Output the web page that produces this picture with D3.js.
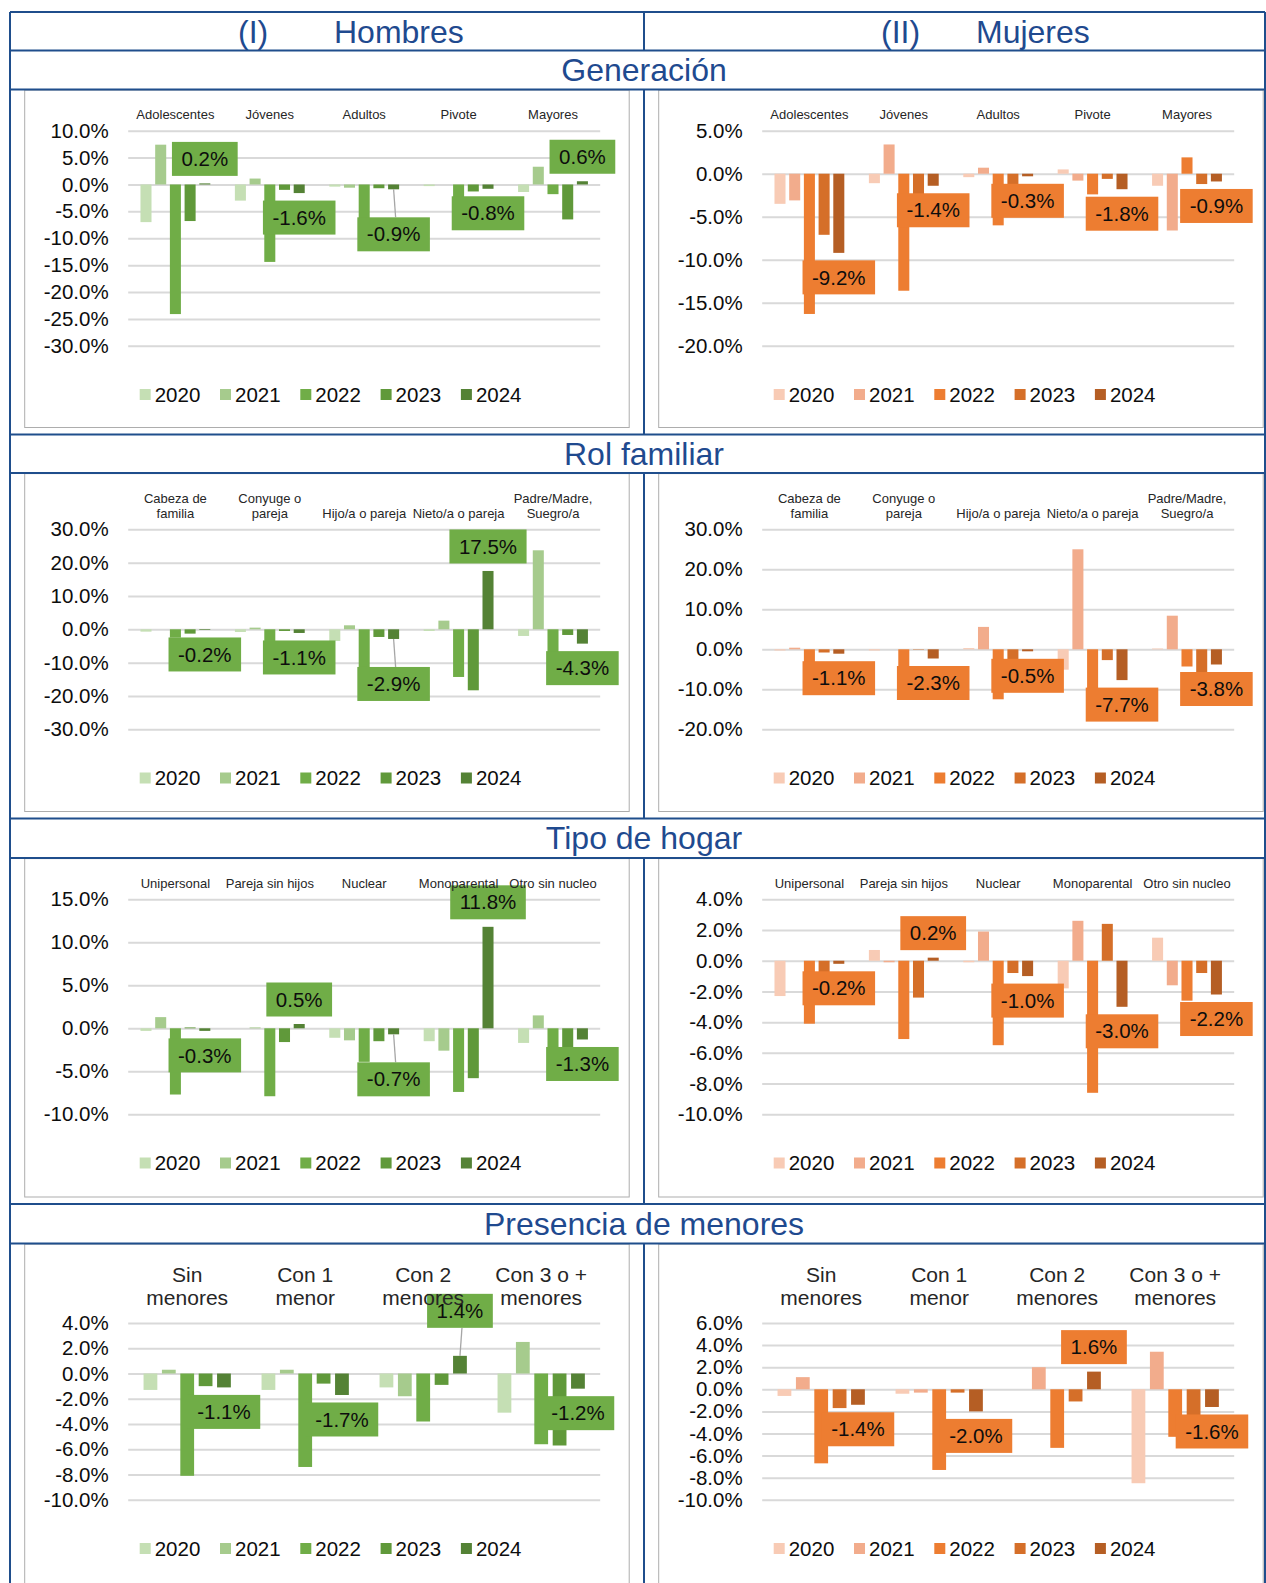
<!DOCTYPE html>
<html>
<head>
<meta charset="utf-8">
<script src="https://cdn.jsdelivr.net/npm/d3@7"></script>
<style>
  html, body { margin: 0; padding: 0; background: #fff; }
  svg { display: block; }
</style>
</head>
<body>
<svg id="chart" width="1266" height="1583"></svg>
<script>
// ---- data: annual change (%) per category, series 2020..2024 ----
const years = ["2020", "2021", "2022", "2023", "2024"];

const generacionCats = ["Adolescentes", "Jóvenes", "Adultos", "Pivote", "Mayores"];
const rolCats = ["Cabeza de\nfamilia", "Conyuge o\npareja", "Hijo/a o pareja", "Nieto/a o pareja", "Padre/Madre,\nSuegro/a"];
const hogarCats = ["Unipersonal", "Pareja sin hijos", "Nuclear", "Monoparental", "Otro sin nucleo"];
const menoresCats = ["Sin\nmenores", "Con 1\nmenor", "Con 2\nmenores", "Con 3 o +\nmenores"];

const generacionHombres = [
  [-7.0, 7.4, -24.1, -6.8, 0.2],
  [-3.0, 1.1, -14.4, -1.0, -1.6],
  [-0.4, -0.6, -6.4, -0.7, -0.9],
  [-0.3, 0.0, -2.5, -1.3, -0.8],
  [-1.4, 3.3, -1.8, -6.5, 0.6]
];
const generacionMujeres = [
  [-3.5, -3.1, -16.3, -7.1, -9.2],
  [-1.1, 3.4, -13.6, -3.0, -1.4],
  [-0.4, 0.7, -6.0, -1.8, -0.3],
  [0.5, -0.8, -2.4, -0.6, -1.8],
  [-1.4, -6.6, 1.9, -1.2, -0.9]
];
const rolHombres = [
  [-0.7, 0.0, -2.5, -1.3, -0.2],
  [-0.8, 0.5, -3.5, -0.5, -1.1],
  [-3.5, 1.2, -13.5, -2.3, -2.9],
  [-0.5, 2.6, -14.3, -18.3, 17.5],
  [-2.0, 23.7, -7.0, -1.7, -4.3]
];
const rolMujeres = [
  [-0.3, 0.4, -3.5, -0.8, -1.1],
  [-0.3, 0.0, -4.5, -0.1, -2.3],
  [0.3, 5.6, -12.5, -2.8, -0.5],
  [-5.1, 25.0, -11.0, -2.7, -7.7],
  [0.2, 8.4, -4.3, -6.0, -3.8]
];
const hogarHombres = [
  [-0.3, 1.3, -7.7, 0.1, -0.3],
  [0.0, 0.1, -7.9, -1.6, 0.5],
  [-1.1, -1.4, -3.9, -1.5, -0.7],
  [-1.5, -2.6, -7.4, -5.8, 11.8],
  [-1.7, 1.5, -6.0, -2.5, -1.3]
];
const hogarMujeres = [
  [-2.3, 0.0, -4.1, -1.0, -0.2],
  [0.7, -0.1, -5.1, -2.4, 0.2],
  [-0.1, 1.9, -5.5, -0.8, -1.0],
  [-1.8, 2.6, -8.6, 2.4, -3.0],
  [1.5, -1.6, -2.6, -0.8, -2.2]
];
const menoresHombres = [
  [-1.3, 0.3, -8.1, -1.0, -1.1],
  [-1.3, 0.3, -7.4, -0.8, -1.7],
  [-1.1, -1.8, -3.8, -0.9, 1.4],
  [-3.1, 2.5, -5.6, -5.7, -1.2]
];
const menoresMujeres = [
  [-0.6, 1.1, -6.7, -1.7, -1.4],
  [-0.4, -0.3, -7.3, -0.3, -2.0],
  [0.0, 2.0, -5.3, -1.1, 1.6],
  [-8.5, 3.4, -4.3, -2.8, -1.6]
];

// y-axis tick values for each panel
const generacionHombresTicks = [10, 5, 0, -5, -10, -15, -20, -25, -30];
const generacionMujeresTicks = [5, 0, -5, -10, -15, -20];
const rolHombresTicks = [30, 20, 10, 0, -10, -20, -30];
const rolMujeresTicks = [30, 20, 10, 0, -10, -20];
const hogarHombresTicks = [15, 10, 5, 0, -5, -10];
const hogarMujeresTicks = [4, 2, 0, -2, -4, -6, -8, -10];
const menoresHombresTicks = [4, 2, 0, -2, -4, -6, -8, -10];
const menoresMujeresTicks = [6, 4, 2, 0, -2, -4, -6, -8, -10];

// ---- styling ----
const FONT = '"Liberation Sans", Arial, Helvetica, sans-serif';
const greens = ["#C5DFB4", "#A6CB8D", "#70AD47", "#60993A", "#548235"];
const oranges = ["#F8CBB5", "#F2AC8C", "#ED7D31", "#D56F29", "#B55E24"];
const titleBlue = "#1F4A8F";
const ruleBlue = "#1F4E8C";

// ---- table layout ----
const T = { left: 10, mid: 644, right: 1265, top: 12, headBottom: 50.5 };
const rows = [
  { title: "Generación", titleTop: 50.5, chartTop: 89.5, chartBottom: 434.5, plotInset: 41.2, catGap: 16, catFont: 13, catLine: 15 },
  { title: "Rol familiar", titleTop: 434.5, chartTop: 473, chartBottom: 818.5, plotInset: 56.3, catGap: 16, catFont: 13, catLine: 15 },
  { title: "Tipo de hogar", titleTop: 818.5, chartTop: 858, chartBottom: 1204, plotInset: 41.3, catGap: 15.5, catFont: 13, catLine: 15 },
  { title: "Presencia de menores", titleTop: 1204, chartTop: 1243.5, chartBottom: 1600, plotInset: 79.5, catGap: 25, catFont: 21, catLine: 23 }
];

const panels = [
  { row: 0, side: 0, cats: generacionCats, values: generacionHombres, ticks: generacionHombresTicks, leader: 2 },
  { row: 0, side: 1, cats: generacionCats, values: generacionMujeres, ticks: generacionMujeresTicks, leader: -1 },
  { row: 1, side: 0, cats: rolCats, values: rolHombres, ticks: rolHombresTicks, leader: 2 },
  { row: 1, side: 1, cats: rolCats, values: rolMujeres, ticks: rolMujeresTicks, leader: -1 },
  { row: 2, side: 0, cats: hogarCats, values: hogarHombres, ticks: hogarHombresTicks, leader: 2 },
  { row: 2, side: 1, cats: hogarCats, values: hogarMujeres, ticks: hogarMujeresTicks, leader: -1 },
  { row: 3, side: 0, cats: menoresCats, values: menoresHombres, ticks: menoresHombresTicks, leader: 2 },
  { row: 3, side: 1, cats: menoresCats, values: menoresMujeres, ticks: menoresMujeresTicks, leader: -1 }
];

const svg = d3.select("#chart").attr("font-family", FONT);
const pct = d => d.toFixed(1) + "%";

// ---- header texts ----
const head = svg.append("g").attr("fill", titleBlue).attr("font-size", 32);
head.append("text").attr("x", 238).attr("y", 31.5).attr("dy", "0.35em").text("(I)");
head.append("text").attr("x", 334).attr("y", 31.5).attr("dy", "0.35em").text("Hombres");
head.append("text").attr("x", 881).attr("y", 31.5).attr("dy", "0.35em").text("(II)");
head.append("text").attr("x", 976).attr("y", 31.5).attr("dy", "0.35em").text("Mujeres");
rows.forEach(r => {
  head.append("text")
    .attr("x", T.mid)
    .attr("y", (r.titleTop + r.chartTop) / 2)
    .attr("dy", "0.35em")
    .attr("text-anchor", "middle")
    .text(r.title);
});

// ---- one clustered bar panel ----
function drawPanel(p) {
  const r = rows[p.row];
  const colors = p.side === 0 ? greens : oranges;
  const labelFill = colors[2];
  const boxLeft = (p.side === 0 ? T.left : T.mid) + 14.7;
  const boxWidth = 604.5;
  const boxTop = r.chartTop + 0.6;
  const boxBottom = r.chartBottom - 7;
  const plotL = boxLeft + 103.5, plotR = boxLeft + 575.5;
  const plotTop = r.chartTop + r.plotInset, plotBottom = r.chartTop + 256.3;

  const g = svg.append("g");
  g.append("rect")
    .attr("x", boxLeft).attr("y", boxTop)
    .attr("width", boxWidth).attr("height", boxBottom - boxTop)
    .attr("fill", "#fff").attr("stroke", "#ADADAD").attr("stroke-width", 1);

  const y = d3.scaleLinear().domain(d3.extent(p.ticks)).range([plotBottom, plotTop]);
  const x = d3.scaleBand().domain(p.cats).range([plotL, plotR]);
  const xs = d3.scaleBand().domain(years).range([0, x.bandwidth()])
    .paddingInner(0.25).paddingOuter(0.835);

  // gridlines + value axis
  const ya = g.append("g")
    .attr("transform", `translate(${plotL},0)`)
    .call(d3.axisLeft(y).tickValues(p.ticks).tickSize(-(plotR - plotL)).tickPadding(19.5).tickFormat(pct));
  ya.attr("font-size", 20.5).attr("font-family", FONT);
  ya.select(".domain").remove();
  ya.selectAll(".tick line").attr("stroke", "#D9D9D9").attr("stroke-width", 2);
  ya.selectAll(".tick text").attr("fill", "#0d0d0d");

  // bars
  g.append("g").selectAll("g")
    .data(p.values)
    .join("g")
    .attr("transform", (d, i) => `translate(${x(p.cats[i])},0)`)
    .selectAll("rect")
    .data(d => d)
    .join("rect")
    .attr("x", (d, j) => xs(years[j]))
    .attr("width", xs.bandwidth())
    .attr("y", d => y(Math.max(0, d)))
    .attr("height", d => Math.abs(y(d) - y(0)))
    .attr("fill", (d, j) => colors[j]);

  // 2024 value labels
  p.values.forEach((vals, i) => {
    const v = vals[4];
    const cx = x(p.cats[i]) + xs("2024") + xs.bandwidth() / 2;
    const end = y(v);
    const dir = v >= 0 ? -1 : 1;
    const off = i === p.leader ? 45 : 24.5;
    const cy = end + dir * off;
    if (i === p.leader) {
      g.append("line")
        .attr("x1", cx).attr("y1", end)
        .attr("x2", cx + 2).attr("y2", cy - dir * 17)
        .attr("stroke", "#A6A6A6").attr("stroke-width", 1.3);
    }
    const lg = g.append("g");
    const box = lg.append("rect");
    const txt = lg.append("text")
      .attr("x", cx).attr("y", cy).attr("dy", "0.35em")
      .attr("text-anchor", "middle").attr("font-size", 20.5)
      .attr("fill", "#0d0d0d").text(pct(v));
    const w = txt.node().getComputedTextLength() + 19;
    box.attr("x", cx - w / 2).attr("y", cy - 17)
      .attr("width", w).attr("height", 34).attr("fill", labelFill);
  });

  // category axis, labels above the plot (drawn over the value labels)
  const xa = g.append("g")
    .attr("transform", `translate(0,${plotTop - r.catGap})`)
    .call(d3.axisTop(x).tickSize(0).tickPadding(0));
  xa.attr("font-size", r.catFont).attr("font-family", FONT);
  xa.select(".domain").remove();
  xa.selectAll(".tick text").attr("fill", "#262626").each(function (d) {
    const lines = d.split("\n");
    const t = d3.select(this).text(null).attr("y", 0).attr("dy", null);
    lines.forEach((ln, k) => {
      t.append("tspan").attr("x", 0)
        .attr("y", (k - (lines.length - 1)) * r.catLine)
        .attr("dy", "0.35em").text(ln);
    });
  });

  // legend
  const ly = r.chartTop + 305;
  years.forEach((yr, j) => {
    const sx = boxLeft + 115 + j * 80.3;
    g.append("rect").attr("x", sx).attr("y", ly - 5.5)
      .attr("width", 11).attr("height", 11).attr("fill", colors[j]);
    g.append("text").attr("x", sx + 15).attr("y", ly).attr("dy", "0.35em")
      .attr("font-size", 20.5).attr("fill", "#0d0d0d").text(yr);
  });
}

panels.forEach(drawPanel);

// ---- table rules ----
const rules = svg.append("g").attr("stroke", ruleBlue).attr("stroke-width", 2).attr("fill", "none");
const hLines = [T.top, T.headBottom];
rows.forEach(r => { hLines.push(r.titleTop, r.chartTop); });
[...new Set(hLines)].forEach(yy => {
  rules.append("line").attr("x1", T.left).attr("x2", T.right).attr("y1", yy).attr("y2", yy);
});
rules.append("line").attr("x1", T.left).attr("x2", T.left).attr("y1", T.top).attr("y2", 1583);
rules.append("line").attr("x1", T.right).attr("x2", T.right).attr("y1", T.top).attr("y2", 1583);
const midSegs = [[T.top, T.headBottom]];
rows.forEach(r => midSegs.push([r.chartTop, Math.min(r.chartBottom, 1583)]));
midSegs.forEach(([a, b]) => {
  rules.append("line").attr("x1", T.mid).attr("x2", T.mid).attr("y1", a).attr("y2", b);
});
</script>
</body>
</html>
